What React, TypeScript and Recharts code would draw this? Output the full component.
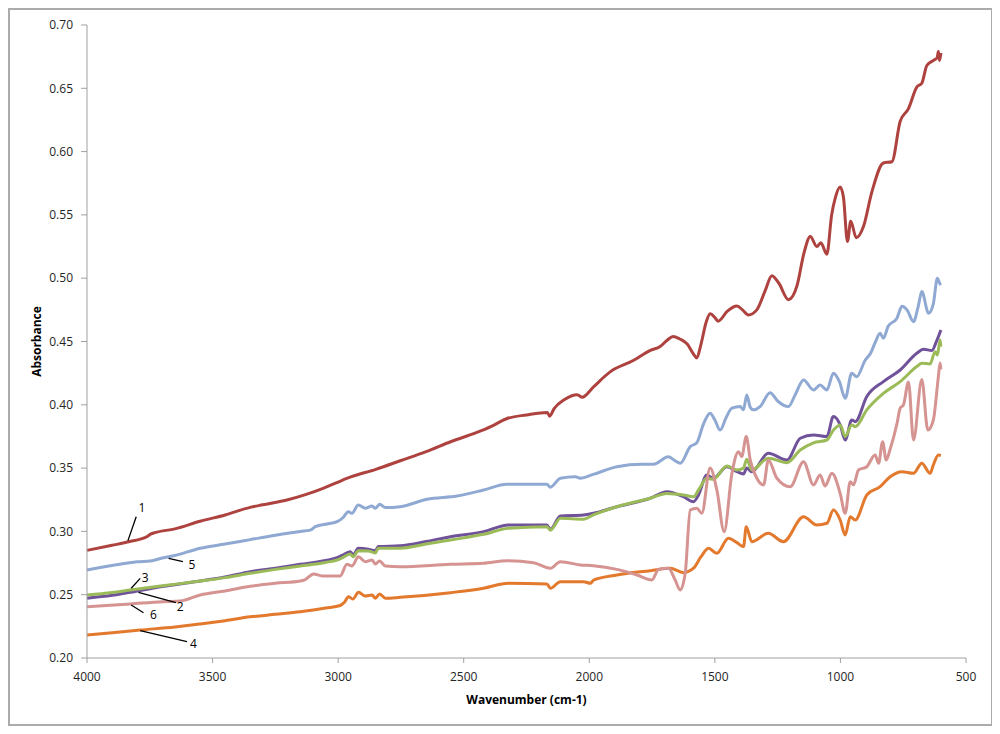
import {
  LineChart,
  Line,
  XAxis,
  YAxis,
  Label,
  ReferenceLine,
  ReferenceDot,
} from "recharts";

// [wavenumber (cm-1), absorbance]
const sample1: [number, number][] = [
  [4000, 0.285], [3900, 0.289], [3830, 0.292], [3760, 0.296], [3745, 0.298], [3730, 0.299],
  [3650, 0.302], [3550, 0.308], [3450, 0.313], [3350, 0.319], [3300, 0.321], [3200, 0.325],
  [3130, 0.329], [3060, 0.334], [3000, 0.339], [2950, 0.343], [2850, 0.349], [2750, 0.356],
  [2650, 0.363], [2550, 0.371], [2450, 0.378], [2390, 0.383], [2330, 0.389], [2250, 0.392],
  [2167, 0.394], [2158, 0.391], [2140, 0.397], [2100, 0.404], [2048, 0.408], [2028, 0.406],
  [1984, 0.414], [1917, 0.426], [1825, 0.435], [1757, 0.443], [1718, 0.446], [1690, 0.451],
  [1666, 0.454], [1640, 0.452], [1610, 0.448], [1585, 0.44], [1572, 0.437], [1555, 0.448],
  [1535, 0.465], [1519, 0.472], [1500, 0.469], [1487, 0.466], [1450, 0.474], [1412, 0.478],
  [1390, 0.475], [1367, 0.471], [1333, 0.475], [1300, 0.49], [1273, 0.502], [1245, 0.496],
  [1207, 0.483], [1173, 0.494], [1145, 0.52], [1120, 0.533], [1094, 0.525], [1078, 0.528],
  [1054, 0.519], [1035, 0.55], [1021, 0.563], [1001, 0.572], [988, 0.564], [972, 0.529],
  [959, 0.545], [937, 0.532], [908, 0.541], [875, 0.568], [829, 0.591], [795, 0.592],
  [762, 0.624], [729, 0.634], [696, 0.651], [676, 0.654], [656, 0.668], [630, 0.672],
  [615, 0.674], [610, 0.679], [605, 0.672], [600, 0.678],
];

const sample2: [number, number][] = [
  [4000, 0.2472], [3900, 0.2495], [3828, 0.2519], [3700, 0.2565], [3549, 0.2608], [3450, 0.264],
  [3350, 0.2682], [3250, 0.271], [3151, 0.274], [3050, 0.277], [3004, 0.2792], [2985, 0.281],
  [2952, 0.284], [2940, 0.2814], [2920, 0.2867], [2880, 0.286], [2852, 0.2848], [2840, 0.288],
  [2753, 0.2887], [2650, 0.292], [2553, 0.2958], [2421, 0.2998], [2322, 0.3051], [2169, 0.3051],
  [2155, 0.3017], [2115, 0.3122], [2023, 0.313], [1984, 0.3143], [1890, 0.3195], [1757, 0.3262],
  [1691, 0.3314], [1625, 0.3274], [1585, 0.3235], [1565, 0.3288], [1532, 0.3446], [1506, 0.342],
  [1452, 0.3511], [1412, 0.3472], [1386, 0.3454], [1373, 0.35], [1353, 0.3472], [1287, 0.3617],
  [1213, 0.3564], [1160, 0.3736], [1107, 0.3762], [1054, 0.3749], [1028, 0.3907], [1001, 0.3841],
  [981, 0.3722], [955, 0.388], [941, 0.3867], [895, 0.4065], [829, 0.4183], [762, 0.4275],
  [696, 0.4407], [669, 0.4439], [636, 0.4428], [618, 0.4499], [600, 0.4591],
];

const sample3: [number, number][] = [
  [4000, 0.2498], [3900, 0.2518], [3828, 0.2537], [3700, 0.257], [3549, 0.2608], [3450, 0.2635],
  [3350, 0.2669], [3250, 0.27], [3151, 0.2727], [3050, 0.2755], [3004, 0.2774], [2985, 0.279],
  [2952, 0.2822], [2940, 0.28], [2920, 0.2848], [2880, 0.2845], [2852, 0.283], [2840, 0.2867],
  [2753, 0.2867], [2650, 0.29], [2553, 0.2932], [2421, 0.2977], [2322, 0.3025], [2169, 0.3037],
  [2155, 0.301], [2115, 0.3103], [2023, 0.3096], [1984, 0.313], [1890, 0.3195], [1757, 0.3262],
  [1691, 0.33], [1625, 0.3288], [1585, 0.3274], [1565, 0.3327], [1532, 0.342], [1506, 0.3412],
  [1452, 0.3517], [1412, 0.3485], [1386, 0.35], [1373, 0.357], [1353, 0.3485], [1287, 0.3578],
  [1213, 0.3543], [1160, 0.3643], [1107, 0.37], [1054, 0.3722], [1028, 0.38], [1001, 0.3841],
  [981, 0.3749], [955, 0.3841], [941, 0.3827], [895, 0.396], [829, 0.409], [762, 0.4183],
  [696, 0.4302], [676, 0.4328], [643, 0.4323], [623, 0.442], [614, 0.4394], [603, 0.4512],
  [600, 0.446],
];

const sample4: [number, number][] = [
  [4000, 0.2182], [3900, 0.22], [3788, 0.2221], [3650, 0.2245], [3549, 0.2269], [3450, 0.2295],
  [3350, 0.2325], [3250, 0.2345], [3151, 0.2365], [3050, 0.2395], [2992, 0.2415], [2975, 0.244],
  [2959, 0.2484], [2941, 0.2466], [2919, 0.2519], [2892, 0.249], [2865, 0.2498], [2852, 0.2472],
  [2835, 0.2506], [2812, 0.2472], [2753, 0.2479], [2553, 0.2516], [2421, 0.2551], [2322, 0.259],
  [2169, 0.2585], [2155, 0.2551], [2115, 0.2603], [2023, 0.2603], [1995, 0.259], [1983, 0.2616],
  [1890, 0.2656], [1757, 0.269], [1678, 0.2709], [1625, 0.2674], [1585, 0.2709], [1555, 0.28],
  [1525, 0.2867], [1492, 0.2827], [1446, 0.2946], [1412, 0.2911], [1386, 0.288], [1375, 0.3037],
  [1353, 0.2919], [1287, 0.2985], [1227, 0.2919], [1147, 0.3116], [1094, 0.3051], [1054, 0.3064],
  [1028, 0.3169], [1001, 0.309], [981, 0.2972], [961, 0.3116], [941, 0.309], [895, 0.3288],
  [842, 0.3353], [802, 0.3432], [755, 0.3472], [709, 0.3459], [676, 0.3538], [643, 0.3459],
  [630, 0.3525], [610, 0.3604], [600, 0.36],
];

const sample5: [number, number][] = [
  [4000, 0.2695], [3900, 0.273], [3800, 0.276], [3748, 0.2766], [3700, 0.279], [3650, 0.281],
  [3549, 0.2867], [3450, 0.29], [3350, 0.2935], [3250, 0.297], [3151, 0.3], [3111, 0.301],
  [3091, 0.3037], [3040, 0.306], [3004, 0.3077], [2980, 0.311], [2960, 0.3156], [2945, 0.3143],
  [2920, 0.3209], [2892, 0.3183], [2865, 0.32], [2852, 0.3183], [2835, 0.3214], [2812, 0.3188],
  [2753, 0.3195], [2646, 0.3254], [2527, 0.328], [2421, 0.3327], [2328, 0.3372], [2169, 0.3372],
  [2155, 0.3349], [2115, 0.342], [2056, 0.3432], [2036, 0.342], [1984, 0.345], [1890, 0.3511],
  [1790, 0.353], [1744, 0.353], [1685, 0.359], [1660, 0.356], [1638, 0.3538], [1598, 0.367],
  [1572, 0.37], [1545, 0.385], [1519, 0.3933], [1500, 0.388], [1479, 0.38], [1455, 0.39],
  [1432, 0.3973], [1399, 0.3986], [1386, 0.396], [1373, 0.4078], [1359, 0.398], [1346, 0.396],
  [1320, 0.3986], [1280, 0.4096], [1250, 0.403], [1207, 0.3986], [1180, 0.408], [1147, 0.4196],
  [1107, 0.4117], [1081, 0.4157], [1054, 0.4117], [1028, 0.425], [1004, 0.4183], [981, 0.4052],
  [955, 0.425], [935, 0.4222], [901, 0.4354], [880, 0.4407], [860, 0.45], [842, 0.4565],
  [829, 0.4526], [810, 0.462], [775, 0.4684], [755, 0.4778], [735, 0.475], [709, 0.4657],
  [690, 0.478], [676, 0.4894], [649, 0.4723], [630, 0.48], [614, 0.5], [605, 0.496],
  [600, 0.4947],
];

const sample6: [number, number][] = [
  [4000, 0.2405], [3828, 0.2427], [3700, 0.2445], [3629, 0.245], [3549, 0.2498], [3450, 0.253],
  [3350, 0.2566], [3250, 0.259], [3151, 0.2608], [3131, 0.262], [3098, 0.2664], [3064, 0.2648],
  [2992, 0.2648], [2965, 0.274], [2945, 0.2727], [2919, 0.28], [2892, 0.2761], [2865, 0.2774],
  [2852, 0.2743], [2835, 0.2766], [2812, 0.2727], [2753, 0.2721], [2553, 0.274], [2421, 0.2748],
  [2328, 0.2769], [2222, 0.2753], [2155, 0.2709], [2115, 0.2761], [2036, 0.2735], [1983, 0.2729],
  [1890, 0.27], [1810, 0.2656], [1751, 0.2616], [1724, 0.27], [1685, 0.2709], [1658, 0.2616],
  [1638, 0.2537], [1618, 0.2669], [1598, 0.3169], [1572, 0.3183], [1552, 0.3143], [1519, 0.35],
  [1492, 0.3327], [1463, 0.2998], [1432, 0.3459], [1406, 0.363], [1393, 0.359], [1375, 0.3749],
  [1359, 0.3564], [1340, 0.345], [1306, 0.3367], [1287, 0.3564], [1253, 0.342], [1200, 0.3353],
  [1147, 0.3551], [1107, 0.3367], [1081, 0.3446], [1061, 0.3359], [1034, 0.3459], [1001, 0.33],
  [981, 0.3143], [961, 0.3393], [948, 0.3367], [928, 0.3485], [895, 0.3511], [862, 0.3604],
  [848, 0.3538], [832, 0.3709], [818, 0.3564], [802, 0.365], [775, 0.385], [762, 0.3973],
  [749, 0.4], [729, 0.418], [709, 0.3722], [676, 0.42], [652, 0.38], [630, 0.388],
  [610, 0.4222], [603, 0.433], [600, 0.428],
];

const xTicks = [4000, 3500, 3000, 2500, 2000, 1500, 1000, 500];
const yTicks = [0.2, 0.25, 0.3, 0.35, 0.4, 0.45, 0.5, 0.55, 0.6, 0.65, 0.7];

// numbered callouts: label text position and leader line, in data units
const calloutNames = ["1", "5", "3", "2", "6", "4"];
const calloutText: [number, number][] = [
  [3781, 0.3183], [3582, 0.2735], [3768, 0.2634], [3629, 0.2405], [3735, 0.234], [3576, 0.2116],
];
const calloutLeaders: [number, number, number, number][] = [
  [3837, 0.2927, 3804, 0.3116],
  [3675, 0.2787, 3618, 0.2761],
  [3824, 0.2551, 3788, 0.2629],
  [3795, 0.2519, 3646, 0.2437],
  [3824, 0.2419, 3775, 0.2358],
  [3788, 0.2216, 3602, 0.2129],
];

const series = [
  { name: "1", points: sample1, color: "#AE423F" },
  { name: "2", points: sample2, color: "#70529A" },
  { name: "3", points: sample3, color: "#9BBB59" },
  { name: "4", points: sample4, color: "#E3792D" },
  { name: "5", points: sample5, color: "#8FA9D3" },
  { name: "6", points: sample6, color: "#D59391" },
];

const toPoints = (pts: [number, number][]) => pts.map(([w, a]) => ({ w, a }));

const axisColor = "#a0a0a0";
const textColor = "#262626";

const YTitle = (props: any) => {
  const { x, y, height } = props.viewBox;
  const cx = x + 9;
  const cy = y + height / 2;
  return (
    <text
      x={cx}
      y={cy}
      transform={`rotate(-90, ${cx}, ${cy})`}
      textAnchor="middle"
      dominantBaseline="central"
      fontSize={12}
      fontWeight="bold"
      fill="#000"
    >
      Absorbance
    </text>
  );
};

const App = () => {
  return (
    <div
      style={{
        width: 985,
        height: 718,
        border: "2px solid #ababab",
        boxSizing: "border-box",
        background: "#fff",
        fontFamily: "'Open Sans', sans-serif",
      }}
    >
      <LineChart width={981} height={714} margin={{ top: 15, right: 25, left: 17, bottom: 16 }}>
        <XAxis
          dataKey="w"
          type="number"
          domain={[500, 4000]}
          reversed
          ticks={xTicks}
          interval={0}
          stroke={axisColor}
          tickSize={5}
          tickMargin={9}
          height={50}
          tick={{ fill: textColor, fontSize: 12 }}
          allowDuplicatedCategory={false}
        >
          <Label
            value="Wavenumber (cm-1)"
            position="insideBottom"
            offset={4}
            style={{ fontSize: 12, fontWeight: "bold", fill: "#000" }}
          />
        </XAxis>
        <YAxis
          type="number"
          domain={[0.2, 0.7]}
          ticks={yTicks}
          interval={0}
          width={60}
          stroke={axisColor}
          tickSize={6}
          tickMargin={8}
          tickFormatter={(v: number) => v.toFixed(2)}
          tick={{ fill: textColor, fontSize: 12 }}
          label={<YTitle />}
        />
        {series.map((s) => (
          <Line
            key={s.name}
            data={toPoints(s.points)}
            dataKey="a"
            name={s.name}
            type="monotone"
            stroke={s.color}
            strokeWidth={3}
            strokeLinejoin="round"
            dot={false}
            activeDot={false}
            isAnimationActive={false}
          />
        ))}
        {calloutLeaders.map(([x1, y1, x2, y2], i) => (
          <ReferenceLine
            key={`lead-${i}`}
            segment={[
              { x: x1, y: y1 },
              { x: x2, y: y2 },
            ]}
            stroke="#000"
            strokeWidth={1.3}
          />
        ))}
        {calloutText.map(([x, y], i) => (
          <ReferenceDot
            key={`name-${i}`}
            x={x}
            y={y}
            r={1}
            fill="none"
            stroke="none"
            label={{ value: calloutNames[i], position: "center", fill: "#000", fontSize: 12 }}
          />
        ))}
      </LineChart>
    </div>
  );
};

export default App;
